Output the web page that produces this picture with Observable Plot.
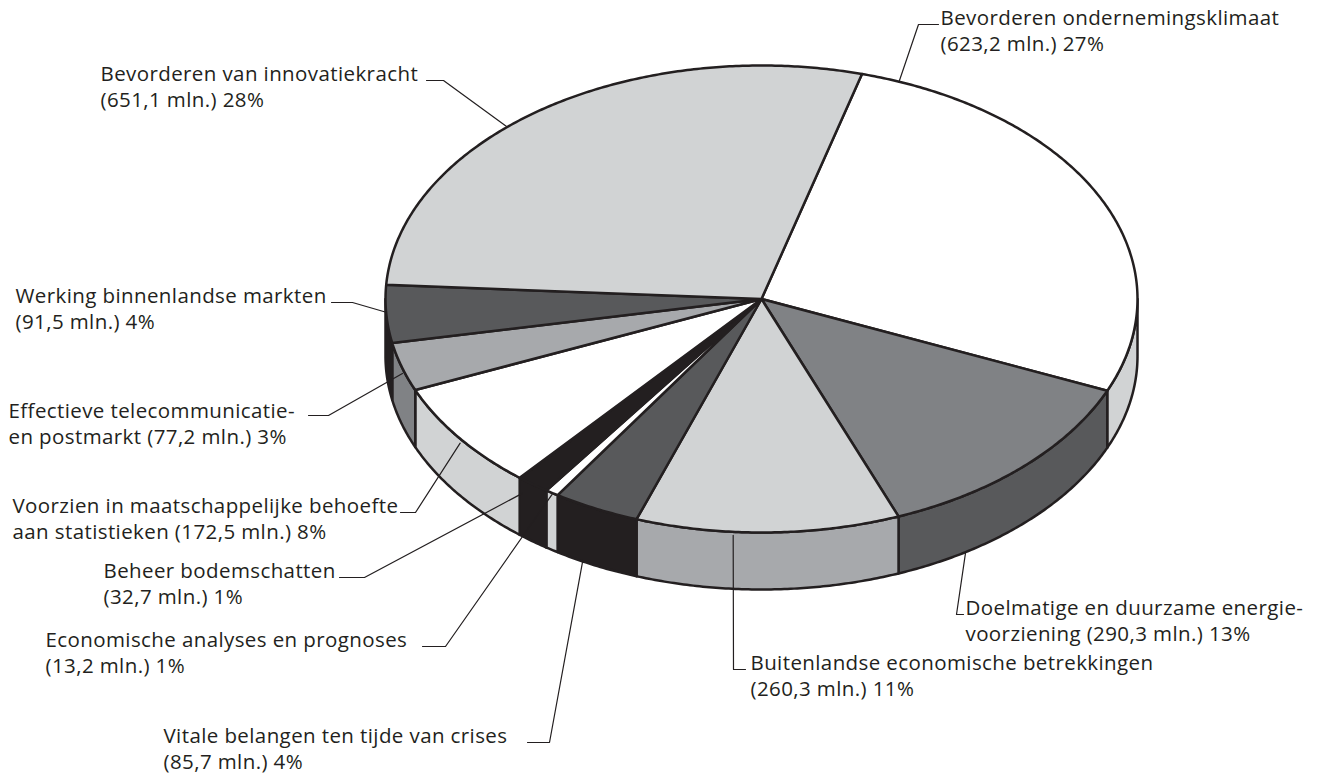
<!DOCTYPE html>
<html>
<head>
<meta charset="utf-8">
<script src="https://cdn.jsdelivr.net/npm/d3@7"></script>
<script src="https://cdn.jsdelivr.net/npm/@observablehq/plot@0.6"></script>
<style>
  html, body { margin: 0; padding: 0; background: #ffffff; }
</style>
</head>
<body>
<div id="chart"></div>
<script>
// ---------- data ----------
const categories = [
  "Bevorderen ondernemingsklimaat",
  "Doelmatige en duurzame energievoorziening",
  "Buitenlandse economische betrekkingen",
  "Vitale belangen ten tijde van crises",
  "Economische analyses en prognoses",
  "Beheer bodemschatten",
  "Voorzien in maatschappelijke behoefte aan statistieken",
  "Effectieve telecommunicatie- en postmarkt",
  "Werking binnenlandse markten",
  "Bevorderen van innovatiekracht"
];
const values = [623.2, 290.3, 260.3, 85.7, 13.2, 32.7, 172.5, 77.2, 91.5, 651.1];
const labelLine1 = [
  "Bevorderen ondernemingsklimaat",
  "Doelmatige en duurzame energie-",
  "Buitenlandse economische betrekkingen",
  "Vitale belangen ten tijde van crises",
  "Economische analyses en prognoses",
  "Beheer bodemschatten",
  "Voorzien in maatschappelijke behoefte",
  "Effectieve telecommunicatie-",
  "Werking binnenlandse markten",
  "Bevorderen van innovatiekracht"
];
const labelLine2Prefix = ["", "voorziening ", "", "", "", "", "aan statistieken ", "en postmarkt ", "", ""];

// ---------- styles ----------
const topColors  = ["#ffffff", "#808285", "#d1d3d4", "#58595b", "#ffffff", "#231f20", "#ffffff", "#a7a9ac", "#58595b", "#d1d3d4"];
const sideColors = ["#d1d3d4", "#58595b", "#a7a9ac", "#231f20", "#d1d3d4", "#231f20", "#d1d3d4", "#808285", "#231f20", "#a7a9ac"];
const INK = "#231f20";

// ---------- layout ----------
const W = 1331, H = 774;
const CX = 761, CY = 298.5, RX = 376, RY = 233.5, DEPTH = 57, START = 15.5;
// label layout: text x, baseline of first line, leader horizontal y, leader far end x, elbow x,
// position of the leader target inside the slice (t: fraction of slice angle, dz: fraction of depth)
const labelLayout = [
  {tx: 940, ty: 24,  hy: 24,  hx: 938, ex: 918, t: 0.061, dz: 0},
  {tx: 965, ty: 614, hy: 614, hx: 963, ex: 956, t: 0.747, dz: 1},
  {tx: 750, ty: 669, hy: 669, hx: 745, ex: 733, t: 0.63,  dz: 0.06},
  {tx: 163, ty: 742, hy: 742, hx: 527, ex: 549, t: 0.67,  dz: 1},
  {tx: 45,  ty: 646, hy: 646, hx: 422, ex: 445, t: 0.5,   dz: 0.03},
  {tx: 103, ty: 577, hy: 577, hx: 339, ex: 364, t: 0.9,   dz: 0.25},
  {tx: 12,  ty: 512, hy: 512, hx: 400, ex: 415, t: 0.49,  dz: 0.08},
  {tx: 8,   ty: 417, hy: 415, hx: 308, ex: 328, t: 0.47,  dz: 0.09},
  {tx: 15,  ty: 302, hy: 302, hx: 331, ex: 352, t: 0.53,  dz: 0},
  {tx: 100, ty: 80,  hy: 80,  hx: 426, ex: 443, t: 0.431, dz: 0}
];
const LINE_GAP = 26;

// ---------- geometry ----------
const total = d3.sum(values);
let acc = 0;
const slices = values.map((v, i) => {
  const a0 = START + acc / total * 360;
  acc += v;
  const a1 = START + acc / total * 360;
  return {i, a0, a1};
});
const rad = d => d * Math.PI / 180;
const pt = (deg, dz = 0, r = 1) => ({
  x: CX + RX * r * Math.sin(rad(deg)),
  y: CY - RY * r * Math.cos(rad(deg)) + dz * DEPTH
});
function arc(a0, a1, dz) {
  const n = Math.max(2, Math.ceil((a1 - a0) / 0.5));
  return d3.range(n + 1).map(k => pt(a0 + (a1 - a0) * k / n, dz));
}

const sidePolys = [], topPolys = [];
slices.forEach(s => {
  const lo = Math.max(s.a0, 90), hi = Math.min(s.a1, 270);
  if (hi > lo) {
    const p = [...arc(lo, hi, 0), ...arc(lo, hi, 1).reverse()];
    p.push(p[0]);
    sidePolys.push({i: s.i, p});
  }
  const c = pt(0, 0, 0);
  const p = [c, ...arc(s.a0, s.a1, 0), c];
  topPolys.push({i: s.i, p});
});

const fmt = v => v.toFixed(1).replace(".", ",");
const textRows = [];
const leaders = [];
slices.forEach(s => {
  const L = labelLayout[s.i];
  const pct = Math.round(values[s.i] / total * 100);
  textRows.push({x: L.tx, y: L.ty, text: labelLine1[s.i]});
  textRows.push({x: L.tx, y: L.ty + LINE_GAP, text: labelLine2Prefix[s.i] + "(" + fmt(values[s.i]) + " mln.) " + pct + "%"});
  const target = pt(s.a0 + (s.a1 - s.a0) * L.t, L.dz);
  leaders.push([target, {x: L.ex, y: L.hy}, {x: L.hx, y: L.hy}]);
});

const marks = [];
sidePolys.forEach(s => marks.push(Plot.line(s.p, {
  x: "x", y: "y", fill: sideColors[s.i], stroke: INK, strokeWidth: 2.5, strokeLinejoin: "round", curve: "linear"
})));
topPolys.forEach(s => marks.push(Plot.line(s.p, {
  x: "x", y: "y", fill: topColors[s.i], stroke: INK, strokeWidth: 2.5, strokeLinejoin: "round", curve: "linear"
})));
leaders.forEach(l => marks.push(Plot.line(l, {
  x: "x", y: "y", stroke: INK, strokeWidth: 1.2, fill: "none"
})));
marks.push(Plot.text(textRows, {
  x: "x", y: "y", text: "text", textAnchor: "start", lineAnchor: "bottom", fontSize: 20.5, fill: INK
}));

const chart = Plot.plot({
  width: W,
  height: H,
  margin: 0,
  x: {domain: [0, W], range: [0, W], axis: null},
  y: {domain: [0, H], range: [0, H], axis: null},
  style: {fontFamily: "'Open Sans', 'Liberation Sans', Arial, sans-serif", letterSpacing: "0.4px", background: "#ffffff", overflow: "visible"},
  marks
});
document.getElementById("chart").appendChild(chart);
</script>
</body>
</html>
